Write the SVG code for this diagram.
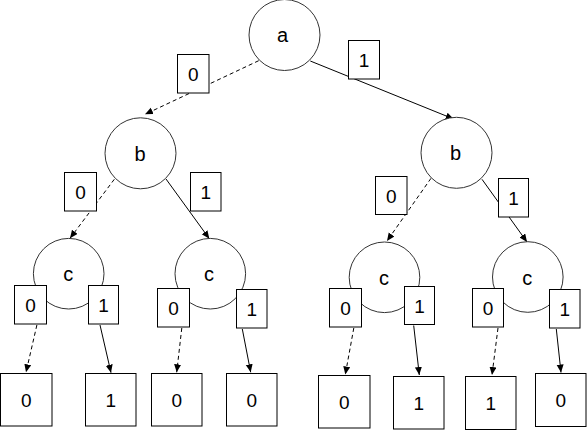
<svg xmlns="http://www.w3.org/2000/svg" width="587" height="431" viewBox="0 0 587 431">
<style>
.bg{fill:#fff}
.node circle{fill:#fff;stroke:#333;stroke-width:1}
.box{fill:#fff;stroke:#000;stroke-width:1}
.e{stroke:#000;stroke-width:1;fill:none;marker-end:url(#arr)}
.d{stroke-dasharray:4 3}
text{font-family:"Liberation Sans",Arial,sans-serif;font-size:19px;fill:#000;text-anchor:middle}
.nt{font-size:20px}
</style>
<defs>
<marker id="arr" markerUnits="userSpaceOnUse" markerWidth="9" markerHeight="8" refX="8" refY="3.5" orient="auto">
<path d="M0,0 L8,3.5 L0,7 z" fill="#000"/>
</marker>
</defs>
<rect class="bg" x="0" y="0" width="587" height="431"/>
<g id="connectors">
<line class="e d" x1="258.7" y1="60.7" x2="145" y2="114.3"/>
<line class="e" x1="310.3" y1="61" x2="453.7" y2="119"/>
<line class="e d" x1="114.3" y1="179.3" x2="70" y2="238.3"/>
<line class="e" x1="166" y1="179" x2="209.3" y2="238.7"/>
<line class="e d" x1="431" y1="178.3" x2="387" y2="241"/>
<line class="e" x1="482" y1="179.3" x2="527" y2="242"/>
<line class="e d" x1="36.9" y1="325" x2="26" y2="372.3"/>
<line class="e" x1="100" y1="325" x2="111" y2="372.7"/>
<line class="e d" x1="181.8" y1="328" x2="176.7" y2="372.3"/>
<line class="e" x1="242.3" y1="329" x2="250.7" y2="372.3"/>
<line class="e d" x1="353.8" y1="328" x2="345.3" y2="374.5"/>
<line class="e" x1="413.7" y1="325.5" x2="419.3" y2="375"/>
<line class="e d" x1="498" y1="328" x2="492" y2="375"/>
<line class="e" x1="556.3" y1="329" x2="561" y2="372.5"/>
</g>
<g id="node-a" class="node"><circle cx="284.5" cy="35" r="35.5"/><text class="nt" x="282.5" y="42">a</text></g>
<g id="node-b1" class="node"><circle cx="140.5" cy="153.3" r="35.5"/><text class="nt" x="140" y="161">b</text></g>
<g id="node-b2" class="node"><circle cx="456.5" cy="152.8" r="35.5"/><text class="nt" x="455.5" y="160.3">b</text></g>
<g id="node-c1" class="node"><circle cx="68.7" cy="273.7" r="35.3"/><text class="nt" x="68.3" y="281.3">c</text></g>
<g id="node-c2" class="node"><circle cx="210.3" cy="273.7" r="35.3"/><text class="nt" x="209" y="281.3">c</text></g>
<g id="node-c3" class="node"><circle cx="384.5" cy="277.3" r="35.3"/><text class="nt" x="384" y="284.7">c</text></g>
<g id="node-c4" class="node"><circle cx="527.8" cy="277" r="35.3"/><text class="nt" x="527.3" y="284.7">c</text></g>
<g id="edge-labels">
<g id="lbl-a0"><rect class="box" x="177.5" y="54.5" width="31.5" height="38.5"/><text x="193.2" y="80.5">0</text></g>
<g id="lbl-a1"><rect class="box" x="348.5" y="40.5" width="31" height="38.5"/><text x="364" y="66.5">1</text></g>
<g id="lbl-b1-0"><rect class="box" x="64.5" y="172.5" width="32" height="38.5"/><text x="80.5" y="198.8">0</text></g>
<g id="lbl-b1-1"><rect class="box" x="190.5" y="172.5" width="30.5" height="38.5"/><text x="205.8" y="198.8">1</text></g>
<g id="lbl-b2-0"><rect class="box" x="375.5" y="176.5" width="31.5" height="38"/><text x="391.3" y="202.5">0</text></g>
<g id="lbl-b2-1"><rect class="box" x="498.5" y="178.5" width="30" height="38.5"/><text x="513.5" y="204.8">1</text></g>
<g id="lbl-c1-0"><rect class="box" x="14.5" y="285.5" width="32" height="38.5"/><text x="30.5" y="311.8">0</text></g>
<g id="lbl-c1-1"><rect class="box" x="88.5" y="285.5" width="30" height="38.5"/><text x="103.5" y="311.8">1</text></g>
<g id="lbl-c2-0"><rect class="box" x="157.5" y="288.5" width="32" height="38.5"/><text x="173.5" y="314.8">0</text></g>
<g id="lbl-c2-1"><rect class="box" x="236.5" y="289.5" width="30.5" height="38.5"/><text x="251.8" y="315.8">1</text></g>
<g id="lbl-c3-0"><rect class="box" x="329.5" y="288.5" width="32" height="38.5"/><text x="345.5" y="314.8">0</text></g>
<g id="lbl-c3-1"><rect class="box" x="404.5" y="286.5" width="30" height="38"/><text x="419.5" y="312.5">1</text></g>
<g id="lbl-c4-0"><rect class="box" x="472.5" y="288.5" width="31" height="38.5"/><text x="488" y="314.8">0</text></g>
<g id="lbl-c4-1"><rect class="box" x="549.5" y="289.5" width="30.5" height="38.5"/><text x="564.8" y="315.8">1</text></g>
</g>
<g id="leaf-1"><rect class="box" x="0.5" y="373.5" width="51.5" height="52.5"/><text x="26.3" y="406.8">0</text></g>
<g id="leaf-2"><rect class="box" x="85.5" y="373.5" width="50.5" height="52.5"/><text x="110.8" y="406.8">1</text></g>
<g id="leaf-3"><rect class="box" x="151.5" y="373.5" width="50.5" height="52.5"/><text x="176.8" y="406.8">0</text></g>
<g id="leaf-4"><rect class="box" x="226.5" y="373.5" width="50.5" height="52.5"/><text x="251.8" y="406.8">0</text></g>
<g id="leaf-5"><rect class="box" x="318.5" y="375.5" width="51.5" height="52.5"/><text x="344.3" y="408.8">0</text></g>
<g id="leaf-6"><rect class="box" x="393.5" y="376.5" width="50.5" height="52.5"/><text x="418.8" y="409.8">1</text></g>
<g id="leaf-7"><rect class="box" x="465.5" y="376.5" width="50.5" height="53"/><text x="490.8" y="410">1</text></g>
<g id="leaf-8"><rect class="box" x="535.5" y="373.5" width="50.5" height="53"/><text x="560.8" y="407">0</text></g>
</svg>
